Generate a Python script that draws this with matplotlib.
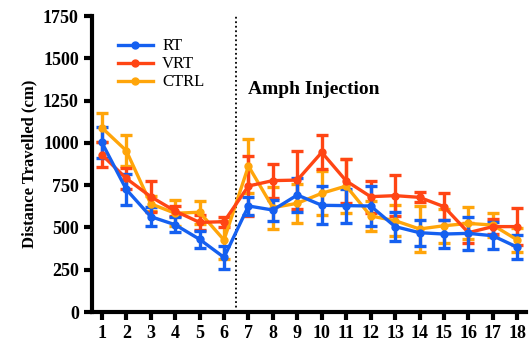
import numpy as np
import matplotlib
matplotlib.use("Agg")
import matplotlib.pyplot as plt
from matplotlib.lines import Line2D

plt.rcParams['font.family'] = ['Liberation Serif', 'DejaVu Serif']
plt.rcParams['font.weight'] = 'bold'

sessions = np.arange(1, 19)

rt = [1003, 725, 564, 516, 430, 323, 627, 603, 692, 631, 629, 627,
      505, 469, 461, 465, 451, 383]
rt_err = [90, 90, 57, 45, 50, 67, 55, 62, 100, 112, 100, 117,
          88, 76, 84, 97, 80, 70]

vrt = [930, 790, 682, 597, 530, 534, 745, 777, 780, 944, 775, 682,
       688, 678, 623, 469, 505, 505]
vrt_err = [75, 60, 90, 30, 45, 30, 180, 100, 170, 100, 130, 95,
           120, 30, 80, 60, 45, 110]

ctrl = [1090, 954, 640, 584, 590, 426, 863, 617, 643, 702, 745, 568,
        540, 491, 510, 524, 514, 426]
ctrl_err = [85, 93, 45, 78, 68, 110, 160, 125, 115, 130, 160, 90,
            90, 137, 100, 95, 70, 70]

series = [
    ("RT", rt, rt_err, "#1560f0"),
    ("VRT", vrt, vrt_err, "#ff4514"),
    ("CTRL", ctrl, ctrl_err, "#ffa50a"),
]

fig = plt.figure(figsize=(5.29, 3.49), dpi=100)
ax = fig.add_axes([0.174, 0.106, 0.82, 0.848])

# draw CTRL first so RT ends up on top
for name, vals, err, col in reversed(series):
    ax.errorbar(sessions, vals, yerr=err, color=col, lw=2.4, marker='o',
                ms=5, capsize=4, capthick=2.4, elinewidth=2.4)

ax.axvline(6.5, color='black', ls=(0, (1, 1.5)), lw=1.3)
ax.text(7.0, 1290, "Amph Injection", fontsize=14, fontweight='bold')

ax.set_xlim(0.6, 18.35)
ax.set_ylim(0, 1750)
ax.set_xticks(sessions)
ax.set_yticks(np.arange(0, 1751, 250))
ax.set_ylabel("Distance Travelled (cm)", fontsize=12, fontweight='bold')

for s in ['top', 'right']:
    ax.spines[s].set_visible(False)
for s in ['left', 'bottom']:
    ax.spines[s].set_linewidth(3)
ax.tick_params(width=3, length=6, labelsize=13)
for lab in ax.get_xticklabels() + ax.get_yticklabels():
    lab.set_fontweight('bold')

handles = [Line2D([], [], color=c, lw=2.4, marker='o', ms=5) for _, _, _, c in series]
labels = [n for n, _, _, _ in series]
leg = ax.legend(handles, labels, loc='upper left', bbox_to_anchor=(0.025, 0.975),
                frameon=False, fontsize=12, handlelength=2.1,
                labelspacing=0.12, handletextpad=0.55)
for t in leg.get_texts():
    t.set_fontweight('normal')

fig.savefig("out.png", dpi=100)
